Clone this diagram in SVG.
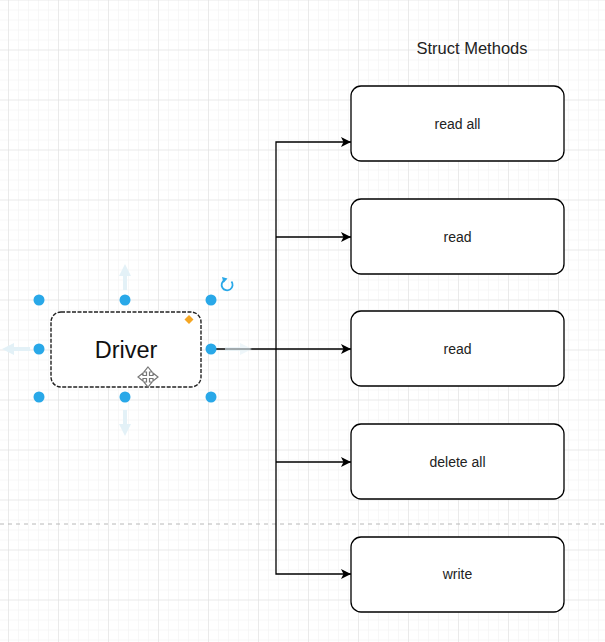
<svg xmlns="http://www.w3.org/2000/svg" width="605" height="642" viewBox="0 0 605 642">
<defs>
  <pattern id="minor" x="8" y="-0.5" width="10" height="10" patternUnits="userSpaceOnUse">
    <path d="M0 0H10M0 0V10" fill="none" stroke="#f0f0f0" stroke-width="1"/>
  </pattern>
  <pattern id="major" x="8" y="-0.5" width="50" height="50" patternUnits="userSpaceOnUse">
    <path d="M0 0H50M0 0V50" fill="none" stroke="#dddddd" stroke-width="1"/>
  </pattern>
  <marker id="arr" viewBox="0 0 10 10" refX="10" refY="5" markerWidth="10" markerHeight="10" markerUnits="userSpaceOnUse" orient="auto">
    <path d="M0 0L10 5L0 10L2.5 5Z" fill="#000"/>
  </marker>
  <marker id="ghost" viewBox="0 0 10 10" refX="5" refY="5" markerWidth="12" markerHeight="12" markerUnits="userSpaceOnUse" orient="auto">
    <path d="M0 0L10 5L0 10Z" fill="#e3f1f7"/>
  </marker>
</defs>
<style>
  .box { fill: #fff; stroke: #000; stroke-width: 1.3; }
  .lbl { font-family: "Liberation Sans", Arial, sans-serif; font-size: 14px; fill: #222; text-anchor: middle; dominant-baseline: central; }
  .conn { fill: none; stroke: #000; stroke-width: 1.3; }
  .handle { fill: #29a8e8; }
  .ghostline { stroke: #e3f1f7; stroke-width: 4; fill: none; }
</style>
<rect width="605" height="642" fill="#fff"/>
<rect width="605" height="642" fill="url(#minor)"/>
<rect width="605" height="642" fill="url(#major)"/>
<line x1="0" y1="524" x2="605" y2="524" stroke="#b8b8b8" stroke-width="1" stroke-dasharray="4 4"/>

<text x="472" y="48" class="lbl" style="font-size:16.5px">Struct Methods</text>

<g id="connectors">
  <path class="conn" d="M211 349H276" stroke-width="2"/>
  <path class="conn" d="M276 349V142H351" marker-end="url(#arr)"/>
  <path class="conn" d="M276 237H351" marker-end="url(#arr)"/>
  <path class="conn" d="M276 349H351" marker-end="url(#arr)"/>
  <path class="conn" d="M276 349V574H351" marker-end="url(#arr)"/>
  <path class="conn" d="M276 462H351" marker-end="url(#arr)"/>
</g>

<g id="node-read-all">
  <rect class="box" x="351" y="86" width="213" height="75" rx="10"/>
  <text class="lbl" x="457.5" y="124">read all</text>
</g>
<g id="node-read-1">
  <rect class="box" x="351" y="199" width="213" height="75" rx="10"/>
  <text class="lbl" x="457.5" y="237">read</text>
</g>
<g id="node-read-2">
  <rect class="box" x="351" y="311" width="213" height="75" rx="10"/>
  <text class="lbl" x="457.5" y="349">read</text>
</g>
<g id="node-delete-all">
  <rect class="box" x="351" y="424" width="213" height="75" rx="10"/>
  <text class="lbl" x="457.5" y="462">delete all</text>
</g>
<g id="node-write">
  <rect class="box" x="351" y="537" width="213" height="75" rx="10"/>
  <text class="lbl" x="457.5" y="574">write</text>
</g>

<g id="node-driver">
  <!-- faint direction arrows -->
  <path class="ghostline" d="M125 290V270" marker-end="url(#ghost)"/>
  <path class="ghostline" d="M125 410V430" marker-end="url(#ghost)"/>
  <path class="ghostline" d="M30 349H8" marker-end="url(#ghost)"/>
  <path class="ghostline" d="M225 349H246" marker-end="url(#ghost)" opacity="0.6"/>
  <rect x="51" y="312" width="150" height="75" rx="10" fill="#fff" stroke="#222" stroke-width="1.4" stroke-dasharray="4 1.5"/>
  <text class="lbl" x="126" y="350" style="font-size:23.5px;fill:#111">Driver</text>
  <!-- orange diamond -->
  <path d="M189 315L193.5 319.5L189 324L184.5 319.5Z" fill="#f5a623"/>
  <!-- handles -->
  <circle class="handle" cx="39" cy="300" r="5.5"/>
  <circle class="handle" cx="125" cy="300" r="5.5"/>
  <circle class="handle" cx="211" cy="300" r="5.5"/>
  <circle class="handle" cx="39" cy="349" r="5.5"/>
  <circle class="handle" cx="211" cy="349" r="5.5"/>
  <circle class="handle" cx="39" cy="397" r="5.5"/>
  <circle class="handle" cx="125" cy="397" r="5.5"/>
  <circle class="handle" cx="211" cy="397" r="5.5"/>
  <!-- rotate icon -->
  <path d="M231.5 281.5A5.5 5.5 0 1 1 224.5 280" fill="none" stroke="#29a8e8" stroke-width="1.8"/>
  <path d="M222 277L227.5 278.5L223.5 283Z" fill="#29a8e8"/>
  <!-- move icon -->
  <g transform="translate(148 377)" fill="#fff" stroke="#777" stroke-width="1.2">
    <path d="M0 -10L4 -5H1.5V-1.5H5V-4L10 0L5 4V1.5H1.5V5H4L0 10L-4 5H-1.5V1.5H-5V4L-10 0L-5 -4V-1.5H-1.5V-5H-4Z"/>
  </g>
</g>
</svg>
